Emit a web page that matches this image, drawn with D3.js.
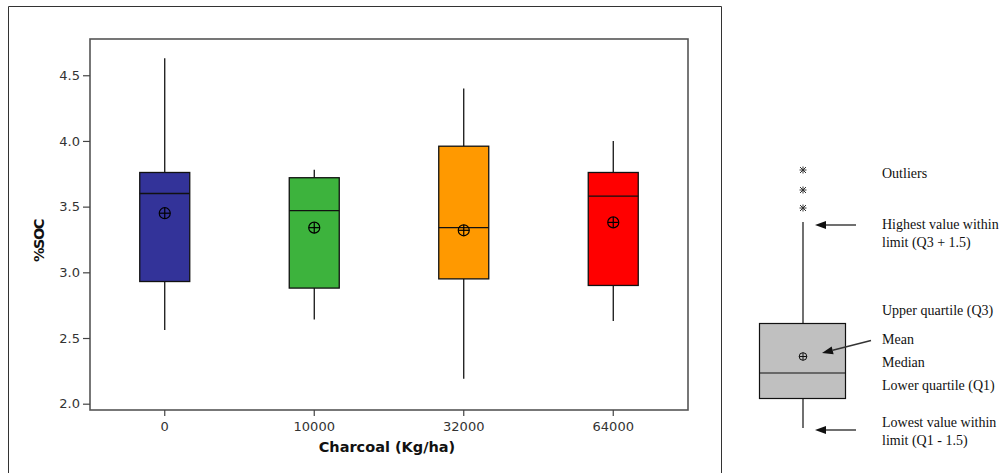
<!DOCTYPE html>
<html>
<head>
<meta charset="utf-8">
<script src="https://cdn.jsdelivr.net/npm/d3@7"></script>
<style>
  html, body { margin: 0; padding: 0; background: #fff; }
  svg { display: block; }
</style>
</head>
<body>
<svg id="chart" width="1005" height="473"></svg>
<script>
// ---- data ----
const categories  = ["0", "10000", "32000", "64000"];
const whiskerLow  = [2.56, 2.64, 2.19, 2.63];
const q1          = [2.93, 2.88, 2.95, 2.90];
const median      = [3.60, 3.47, 3.34, 3.58];
const q3          = [3.76, 3.72, 3.96, 3.76];
const whiskerHigh = [4.63, 3.78, 4.40, 4.00];
const means       = [3.45, 3.34, 3.32, 3.38];
const boxColors   = ["#333399", "#3db33d", "#ff9900", "#ff0000"];
const yTickValues = [2.0, 2.5, 3.0, 3.5, 4.0, 4.5];
const yTitle = "%SOC";
const xTitle = "Charcoal (Kg/ha)";
const legendLabels = [
  ["Outliers"],
  ["Highest value within", "limit (Q3 + 1.5)"],
  ["Upper quartile (Q3)"],
  ["Mean"],
  ["Median"],
  ["Lower quartile (Q1)"],
  ["Lowest value within", "limit (Q1 - 1.5)"]
];

const rows = categories.map((c, i) => ({
  cat: c, lo: whiskerLow[i], q1: q1[i], med: median[i], q3: q3[i],
  hi: whiskerHigh[i], mean: means[i], color: boxColors[i]
}));

const svg = d3.select("#chart");
const plot = { left: 90, right: 688, top: 39, bottom: 410 };

// outer frame
svg.append("path")
  .attr("d", "M8.5,480 V6.5 H721.5 V480")
  .attr("fill", "none").attr("stroke", "#333").attr("stroke-width", 1);

const x = d3.scaleBand().domain(categories).range([plot.left, plot.right]);
const y = d3.scaleLinear().domain([1.952, 4.776]).range([plot.bottom, plot.top]);
const boxW = 50;
const cx = d => x(d.cat) + x.bandwidth() / 2;

// plot frame
svg.append("rect")
  .attr("x", plot.left).attr("y", plot.top)
  .attr("width", plot.right - plot.left).attr("height", plot.bottom - plot.top)
  .attr("fill", "none").attr("stroke", "#555").attr("stroke-width", 1.6);

// axes
const yAxis = svg.append("g")
  .attr("transform", `translate(${plot.left},0)`)
  .call(d3.axisLeft(y).tickValues(yTickValues).tickSize(7).tickPadding(3).tickFormat(d3.format(".1f")));
const xAxis = svg.append("g")
  .attr("transform", `translate(0,${plot.bottom})`)
  .call(d3.axisBottom(x).tickSize(6).tickPadding(6));
[yAxis, xAxis].forEach(g => {
  g.select(".domain").remove();
  g.selectAll(".tick line").attr("stroke", "#444").attr("stroke-width", 1.2);
  g.selectAll(".tick text").attr("fill", "#333")
    .style("font-family", "DejaVu Sans, sans-serif").style("font-size", "13px");
});

// axis titles
svg.append("text")
  .attr("x", 387).attr("y", 452).attr("text-anchor", "middle")
  .style("font-family", "DejaVu Sans, sans-serif").style("font-size", "14.5px")
  .style("font-weight", "bold").attr("fill", "#111").text(xTitle);
svg.append("text")
  .attr("transform", "translate(44,241) rotate(-90)").attr("text-anchor", "middle")
  .style("font-family", "DejaVu Sans, sans-serif").style("font-size", "14.5px")
  .style("font-weight", "bold").style("letter-spacing", "-1.5px").attr("fill", "#111").text(yTitle);

// boxes
const g = svg.append("g");
const box = g.selectAll("g.box").data(rows).join("g").attr("class", "box");
box.append("line")
  .attr("x1", cx).attr("x2", cx)
  .attr("y1", d => y(d.hi)).attr("y2", d => y(d.q3))
  .attr("stroke", "#000").attr("stroke-width", 1.2);
box.append("line")
  .attr("x1", cx).attr("x2", cx)
  .attr("y1", d => y(d.q1)).attr("y2", d => y(d.lo))
  .attr("stroke", "#000").attr("stroke-width", 1.2);
box.append("rect")
  .attr("x", d => cx(d) - boxW / 2).attr("width", boxW)
  .attr("y", d => y(d.q3)).attr("height", d => y(d.q1) - y(d.q3))
  .attr("fill", d => d.color).attr("stroke", "#111").attr("stroke-width", 1.3);
box.append("line")
  .attr("x1", d => cx(d) - boxW / 2).attr("x2", d => cx(d) + boxW / 2)
  .attr("y1", d => y(d.med)).attr("y2", d => y(d.med))
  .attr("stroke", "#111").attr("stroke-width", 1.3);
// mean symbol
const m = box.append("g").attr("transform", d => `translate(${cx(d)},${y(d.mean)})`);
m.append("circle").attr("r", 5.5).attr("fill", "none").attr("stroke", "#000").attr("stroke-width", 1.2);
m.append("line").attr("x1", -5.5).attr("x2", 5.5).attr("stroke", "#000").attr("stroke-width", 1.2);
m.append("line").attr("y1", -5.5).attr("y2", 5.5).attr("stroke", "#000").attr("stroke-width", 1.2);

// ---- legend schematic ----
const L = svg.append("g");
const lx = 803;
// outliers (asterisk-like symbols)
[170, 190, 208].forEach(yy => {
  const s = L.append("g").attr("transform", `translate(${lx},${yy})`)
    .attr("stroke", "#333").attr("stroke-width", 1);
  s.append("line").attr("x1", -3.5).attr("x2", 3.5).attr("y1", 0).attr("y2", 0);
  s.append("line").attr("x1", -3).attr("x2", 3).attr("y1", -3).attr("y2", 3);
  s.append("line").attr("x1", -3).attr("x2", 3).attr("y1", 3).attr("y2", -3);
  s.append("line").attr("x1", 0).attr("x2", 0).attr("y1", -3.5).attr("y2", 3.5);
});
L.append("line").attr("x1", lx).attr("x2", lx).attr("y1", 222).attr("y2", 323).attr("stroke", "#111").attr("stroke-width", 1.2);
L.append("line").attr("x1", lx).attr("x2", lx).attr("y1", 398).attr("y2", 428).attr("stroke", "#111").attr("stroke-width", 1.2);
L.append("rect").attr("x", 759.5).attr("y", 323.5).attr("width", 86).attr("height", 75)
  .attr("fill", "#c0c0c0").attr("stroke", "#111").attr("stroke-width", 1.2);
L.append("line").attr("x1", 759.5).attr("x2", 845.5).attr("y1", 373).attr("y2", 373).attr("stroke", "#111").attr("stroke-width", 1.2);
const lm = L.append("g").attr("transform", `translate(${lx},356.5)`);
lm.append("circle").attr("r", 3.8).attr("fill", "none").attr("stroke", "#111").attr("stroke-width", 1);
lm.append("line").attr("x1", -3.8).attr("x2", 3.8).attr("stroke", "#111").attr("stroke-width", 1);
lm.append("line").attr("y1", -3.8).attr("y2", 3.8).attr("stroke", "#111").attr("stroke-width", 1);

// arrows (head at x1,y1)
function arrow(x1, y1, x2, y2) {
  const ang = Math.atan2(y1 - y2, x1 - x2);
  const len = 11, half = 4;
  const bx = x1 - len * Math.cos(ang), by = y1 - len * Math.sin(ang);
  L.append("line").attr("x1", bx).attr("y1", by).attr("x2", x2).attr("y2", y2)
    .attr("stroke", "#333").attr("stroke-width", 1.4);
  const px = -Math.sin(ang) * half, py = Math.cos(ang) * half;
  L.append("path")
    .attr("d", `M${x1},${y1} L${bx + px},${by + py} L${bx - px},${by - py} Z`)
    .attr("fill", "#111");
}
arrow(815, 225, 856, 225);
arrow(815, 430, 856, 430);
arrow(822, 353, 871, 340.5);

// legend labels
const labelY = [178, 229, 315, 344, 367, 390, 427];
legendLabels.forEach((lines, i) => {
  const t = L.append("text").attr("x", 882).attr("y", labelY[i])
    .style("font-family", "Liberation Serif, Times New Roman, serif").style("font-size", "14px").attr("fill", "#111");
  lines.forEach((s, j) => t.append("tspan").attr("x", 882).attr("dy", j === 0 ? 0 : 18).text(s));
});
</script>
</body>
</html>
